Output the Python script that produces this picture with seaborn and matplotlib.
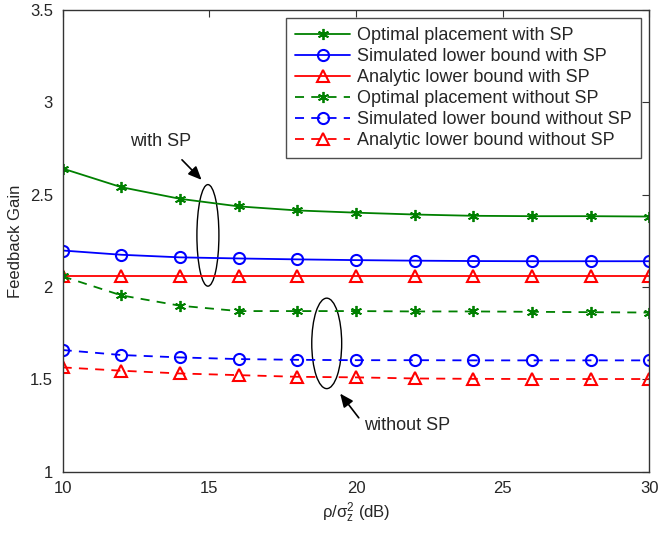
import matplotlib
matplotlib.use("Agg")
import matplotlib.pyplot as plt
from matplotlib.patches import Ellipse
import seaborn as sns
import numpy as np

snr_db = [10, 12, 14, 16, 18, 20, 22, 24, 26, 28, 30]
opt_with_sp = [2.642, 2.541, 2.478, 2.437, 2.415, 2.403, 2.393, 2.386, 2.384, 2.384, 2.382]
sim_with_sp = [2.198, 2.175, 2.161, 2.155, 2.150, 2.146, 2.143, 2.141, 2.140, 2.140, 2.140]
ana_with_sp = [2.058] * 11
opt_without_sp = [2.058, 1.955, 1.899, 1.870, 1.870, 1.870, 1.868, 1.868, 1.866, 1.864, 1.862]
sim_without_sp = [1.659, 1.632, 1.619, 1.610, 1.606, 1.604, 1.604, 1.603, 1.603, 1.603, 1.603]
ana_without_sp = [1.565, 1.547, 1.532, 1.523, 1.514, 1.511, 1.505, 1.503, 1.502, 1.502, 1.502]
labels = ["Optimal placement with SP", "Simulated lower bound with SP",
          "Analytic lower bound with SP", "Optimal placement without SP",
          "Simulated lower bound without SP", "Analytic lower bound without SP"]
x_ticks = [10, 15, 20, 25, 30]
y_ticks = [1, 1.5, 2, 2.5, 3, 3.5]

sns.set_style("white")
plt.rcParams['font.family'] = ['Liberation Sans', 'DejaVu Sans']

fig = plt.figure(figsize=(6.62, 5.33), dpi=100)
ax = fig.add_axes([0.0947, 0.115, 0.8863, 0.866])

series = [opt_with_sp, sim_with_sp, ana_with_sp, opt_without_sp, sim_without_sp, ana_without_sp]
colors = ["#008000", "#0000ff", "#ff0000", "#008000", "#0000ff", "#ff0000"]
markers = [(6, 2, 0), "o", "^", (6, 2, 0), "o", "^"]
styles = ["-", "-", "-", (0, (5, 4)), (0, (5, 4)), (0, (5, 4))]
for vals, c, m, ls, lab in zip(series, colors, markers, styles, labels):
    is_star = isinstance(m, tuple)
    sns.lineplot(x=snr_db, y=vals, ax=ax, color=c, marker=m, linestyle=ls,
                 linewidth=1.3, markersize=8,
                 markerfacecolor=c if is_star else "none", markeredgecolor=c,
                 markeredgewidth=1.3 if is_star else 1.5, label=lab)

ax.set_xlim(10, 30)
ax.set_ylim(1, 3.5)
ax.set_xticks(x_ticks)
ax.set_yticks(y_ticks)
ax.set_xticklabels([str(t) for t in x_ticks])
ax.set_yticklabels([f"{t:g}" for t in y_ticks])
ax.tick_params(direction="in", top=True, right=True, labelsize=12, length=5,
               color="#333333", pad=7)
for s in ax.spines.values():
    s.set_color("#333333")
    s.set_linewidth(1.0)
ax.set_xlabel(r"$\mathregular{\rho/\sigma_z^2}$ (dB)", fontsize=12, labelpad=3)
ax.set_ylabel("Feedback Gain", fontsize=12, labelpad=5)

leg = ax.legend(loc="upper right", fontsize=13, frameon=True, fancybox=False,
                edgecolor="#222222", borderpad=0.5, labelspacing=0.22,
                borderaxespad=0.0, handlelength=3.0, handletextpad=0.4,
                bbox_to_anchor=(0.985, 0.983))
leg.get_frame().set_linewidth(1.0)

ax.add_patch(Ellipse((14.95, 2.28), 0.75, 0.55, fill=False, edgecolor="black", linewidth=1.0))
ax.add_patch(Ellipse((19.0, 1.695), 1.02, 0.49, fill=False, edgecolor="black", linewidth=1.0))
ax.annotate("", xy=(14.8, 2.57), xytext=(14.0, 2.70),
            arrowprops=dict(arrowstyle="-|>,head_length=0.8,head_width=0.35", color="black", lw=1.2))
ax.text(13.35, 2.79, "with SP", fontsize=13, ha="center", va="center")
ax.annotate("", xy=(19.4, 1.435), xytext=(20.15, 1.28),
            arrowprops=dict(arrowstyle="-|>,head_length=0.8,head_width=0.35", color="black", lw=1.2))
ax.text(21.75, 1.25, "without SP", fontsize=13, ha="center", va="center")

fig.savefig("out.png", dpi=100)
